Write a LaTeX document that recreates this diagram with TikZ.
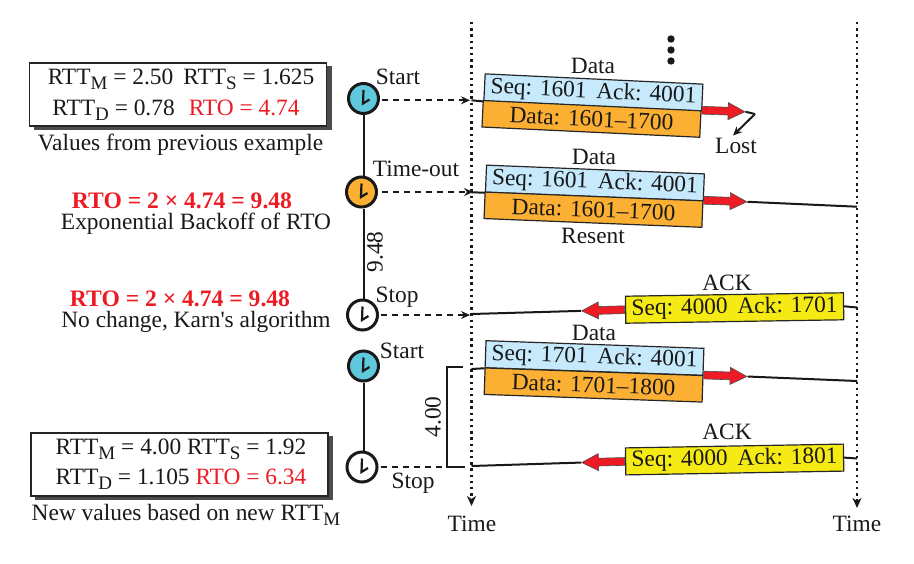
\documentclass[tikz,border=0pt]{standalone}
\usepackage{fontspec}
\setmainfont{Liberation Serif}
\usetikzlibrary{calc}
\usetikzlibrary{arrows.meta}
\usetikzlibrary{shapes.arrows}
\definecolor{segblue}{HTML}{C6E9FB}
\definecolor{segorange}{HTML}{FBB034}
\definecolor{segyellow}{HTML}{F5EA14}
\definecolor{clockteal}{HTML}{5FC8DC}
\definecolor{rtored}{HTML}{ED1C24}
\newcommand{\low}[1]{\raisebox{-.5ex}{\fontsize{19}{19}\selectfont #1}}
\newcommand{\spread}[2]{\makebox[206pt]{#1\hfill #2}}
\tikzset{
	label/.style={inner sep=0pt, font=\fontsize{23.4}{25}\selectfont, text=black!90},
	redlabel/.style={label, text=rtored},
	boldlabel/.style={redlabel, font=\fontsize{23.6}{25}\selectfont\bfseries},
	header/.style={draw=black!85, line width=1.2pt, minimum width=218pt, inner sep=0pt, font=\fontsize{23.4}{25}\selectfont, text=black!90},
	seqpart/.style={header, fill=segblue, minimum height=27pt},
	datapart/.style={header, fill=segorange, align=center, minimum height=26.5pt},
	ackpart/.style={header, fill=segyellow, minimum height=27pt},
	redarrow/.style={shape=single arrow, anchor=tail, draw=black!70, line width=.6pt, fill=rtored, inner sep=3.5pt, minimum height=43pt, minimum width=17pt, single arrow head extend=4.5pt, single arrow tip angle=54, single arrow head indent=0pt},
	clock/.style={circle, draw=black!90, line width=3pt, minimum size=30pt, inner sep=0pt},
	valuebox/.style={draw=black!85, line width=1.2pt, fill=white, minimum width=297pt, minimum height=63pt, inner sep=0pt},
	boxshadow/.style={fill=black!70, minimum width=298pt, minimum height=64pt, inner sep=0pt},
	hand/.style={line width=2.2pt, black!90},
	wire/.style={line width=2pt, black!90},
	timer/.style={line width=1.8pt, black!90, dash pattern=on 6pt off 5pt},
	timeline/.style={line width=2.2pt, black!90, dash pattern=on 2.4pt off 3.8pt},
	timetip/.style={-{Stealth[length=10pt, width=9pt, inset=3pt]}},
	smalltip/.style={-{Stealth[length=9pt, width=8pt, inset=3pt]}}
}
\begin{document}
\begin{tikzpicture}[x=1pt, y=-1pt]
	\useasboundingbox (0,0) rectangle (914,563);
	% time lines
	\coordinate (topL) at (471.5,22);
	\coordinate (botL) at (471.5,506);
	\coordinate (topR) at (857,22);
	\coordinate (botR) at (857,508);
	\draw[timeline, timetip] (topL) -- (botL);
	\draw[timeline, timetip] (topR) -- (botR);
	\node[label] (timeL) at (472,524) {Time};
	\node[label] (timeR) at (857,524) {Time};
	\foreach \y/\n in {39/a, 50/b, 61/c}
		\fill[black!90] (671,\y) circle (3.7) coordinate (dot\n);
	% left boxes
	\node[boxshadow] (shadowA) at (183,98) {};
	\node[valuebox] (boxA) at (178,94.5) {};
	\node[label] (lineAa) at (181,79) {RTT\low{M} = 2.50\hspace{10pt}RTT\low{S} = 1.625};
	\node[label] (lineAb) at (176,110) {RTT\low{D} = 0.78\hspace{14pt}\textcolor{rtored}{RTO = 4.74}};
	\node[label] (noteA) at (180.5,145) {Values from previous example};
	\node[boldlabel] (rtoB) at (182,201) {RTO = 2 × 4.74 = 9.48};
	\node[label] (noteB) at (196,224) {Exponential Backoff of RTO};
	\node[boldlabel] (rtoC) at (180,299) {RTO = 2 × 4.74 = 9.48};
	\node[label] (noteC) at (196,322) {No change, Karn\textquotesingle s algorithm};
	\node[boxshadow] (shadowD) at (184,468) {};
	\node[valuebox] (boxD) at (179.5,464.5) {};
	\node[label] (lineDa) at (181,449) {RTT\low{M} = 4.00 RTT\low{S} = 1.92};
	\node[label] (lineDb) at (181,479) {RTT\low{D} = 1.105 \textcolor{rtored}{RTO = 6.34}};
	\node[label] (noteD) at (186,515) {New values based on new RTT\low{M}};
	% clocks
	\node[clock, fill=clockteal] (clockA) at (363.5,98.5) {};
	\node[clock, fill=segorange] (clockB) at (361.5,192) {};
	\node[clock, fill=white] (clockC) at (362.5,315) {};
	\node[clock, fill=clockteal] (clockD) at (363.5,366) {};
	\node[clock, fill=white] (clockE) at (362,467) {};
	\foreach \c in {clockA, clockB, clockC, clockD, clockE}
		\draw[hand] ($(\c)+(0,-8.5)$) -- ($(\c)+(-.5,5)$) -- ($(\c)+(6,1)$);
	\draw[wire] (clockA.south) -- (clockA.south |- clockB.north);
	\draw[wire] (clockA.south |- clockB.south) -- (clockA.south |- clockC.north);
	\draw[wire] (clockD.south) -- (clockD.south |- clockE.north);
	\node[label] (startA) at (398,77) {Start};
	\node[label] (timeoutB) at (416,169) {Time-out};
	\node[label, rotate=90] (spanB) at (375,252) {9.48};
	\node[label] (stopC) at (397,297) {Stop};
	\node[label] (startD) at (402,351) {Start};
	\node[label] (stopE) at (413,483) {Stop};
	\node[label, rotate=90] (spanE) at (433,417) {4.00};
	% first data segment
	\coordinate (entryA) at (471.5,100.3);
	\coordinate (lostBend) at (755,114);
	\coordinate (lostEnd) at (733,135.5);
	\node[seqpart, rotate=-2.7] (seqA) at (593.4,92.5) {\spread{Seq: 1601}{Ack: 4001}};
	\node[datapart, rotate=-2.7] (dataA) at (591.5,118.9) {Data: 1601–1700};
	\node[redarrow, rotate=-2] (arrowA) at (dataA.north east) {};
	\draw[wire] (entryA) -- (seqA.south west);
	\draw[wire] (arrowA.tip) -- (lostBend);
	\draw[wire, smalltip] (lostBend) -- (lostEnd);
	\node[label] (tagA) at (593,66) {Data};
	\node[label] (lostA) at (736,146) {Lost};
	% resent data segment
	\coordinate (entryB) at (471.5,192.3);
	\coordinate (exitB) at (857,206.7);
	\node[seqpart, rotate=-2.3] (seqB) at (594.9,183) {\spread{Seq: 1601}{Ack: 4001}};
	\node[datapart, rotate=-2.3] (dataB) at (593.5,209.7) {Data: 1601–1700};
	\node[redarrow, rotate=-2] (arrowB) at (dataB.north east) {};
	\draw[wire] (entryB) -- (seqB.south west);
	\draw[wire] (arrowB.tip) -- (exitB);
	\node[label] (tagB) at (594,157) {Data};
	\node[label] (resentB) at (593,236) {Resent};
	% first ack
	\coordinate (exitC) at (471.5,314);
	\coordinate (entryC) at (857,307.5);
	\node[ackpart, rotate=.9] (ackC) at (734.6,308) {\spread{Seq: 4000}{Ack: 1701}};
	\node[redarrow, rotate=181.5] (arrowC) at (ackC.west) {};
	\draw[wire] (entryC) -- (ackC.east);
	\draw[wire] (arrowC.tip) -- (exitC);
	\node[label] (tagC) at (727,283) {ACK};
	% new data segment
	\coordinate (entryD) at (471.5,369);
	\coordinate (exitD) at (857,381);
	\node[seqpart, rotate=-2] (seqD) at (594.5,358) {\spread{Seq: 1701}{Ack: 4001}};
	\node[datapart, rotate=-2] (dataD) at (593.6,385) {Data: 1701–1800};
	\node[redarrow, rotate=-2] (arrowD) at (dataD.north east) {};
	\draw[wire] (entryD) -- (seqD.south west);
	\draw[wire] (arrowD.tip) -- (exitD);
	\node[label] (tagD) at (594,333) {Data};
	% second ack
	\coordinate (exitE) at (471.5,466);
	\coordinate (entryE) at (857,458.5);
	\node[ackpart, rotate=1] (ackE) at (734.6,459.5) {\spread{Seq: 4000}{Ack: 1801}};
	\node[redarrow, rotate=181.5] (arrowE) at (ackE.west) {};
	\draw[wire] (entryE) -- (ackE.east);
	\draw[wire] (arrowE.tip) -- (exitE);
	\node[label] (tagE) at (727,432) {ACK};
	% timers
	\coordinate (markA) at (470,100.3);
	\coordinate (markB) at (473,192);
	\coordinate (markC) at (470,315);
	\coordinate (spanTop) at (463,367);
	\coordinate (spanCorner) at (447,367);
	\coordinate (spanFoot) at (447,467);
	\coordinate (spanEnd) at (465,467);
	\draw[timer, smalltip] (clockA.east) ++(2,1.8) -- (markA);
	\draw[timer, smalltip] (clockB.east) ++(4,0) -- (markB);
	\draw[timer, smalltip] (clockC.east) ++(2,0) -- (markC);
	\draw[timer] (clockE.east) ++(2,0) -- (spanFoot);
	\draw[line width=1.2pt, black!90] (spanTop) -- (spanCorner) -- (spanFoot) -- (spanEnd);
\end{tikzpicture}
\end{document}
